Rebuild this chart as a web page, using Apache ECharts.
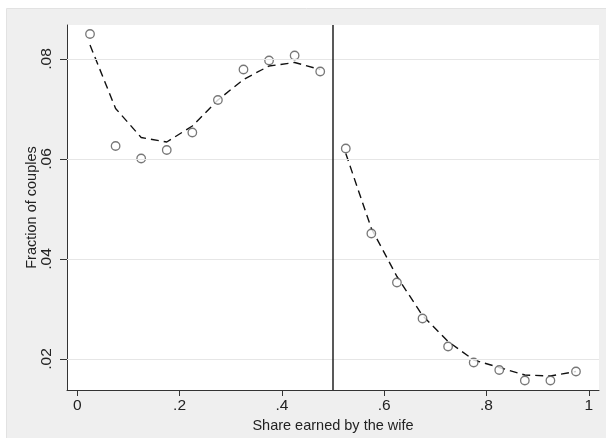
<!DOCTYPE html>
<html><head><meta charset="utf-8">
<script src="https://cdn.jsdelivr.net/npm/echarts@6/dist/echarts.min.js"></script>
<style>html,body{margin:0;padding:0;background:#fff}#c{width:606px;height:438px}</style>
</head><body><div id="c"></div>
<script>
const binX = [0.025,0.075,0.125,0.175,0.225,0.275,0.325,0.375,0.425,0.475,0.525,0.575,0.625,0.675,0.725,0.775,0.825,0.875,0.925,0.975];
const observed = [0.0850,0.0626,0.0601,0.0618,0.0653,0.0718,0.0779,0.0797,0.0807,0.0775,0.0621,0.0451,0.0353,0.0281,0.0225,0.0193,0.0178,0.0157,0.0157,0.0175];
const fittedLeft = [0.0828,0.0701,0.0643,0.0634,0.0666,0.0718,0.0759,0.0786,0.0793,0.0779];
const fittedRight = [0.0611,0.0461,0.0365,0.0287,0.0235,0.0198,0.0183,0.0168,0.0166,0.0175];
const xTicks = [0,0.2,0.4,0.6,0.8,1];
const xTickLabels = ['0','.2','.4','.6','.8','1'];
const yTicks = [0.02,0.04,0.06,0.08];
const yTickLabels = ['.02','.04','.06','.08'];
const cutoff = 0.5;

const font = 'Arial, "Liberation Sans", sans-serif';
const chart = echarts.init(document.getElementById('c'), null, {renderer:'canvas'});
const leftPts = fittedLeft.map((v,i)=>[binX[i],v]);
const rightPts = fittedRight.map((v,i)=>[binX[i+10],v]);
chart.setOption({
  backgroundColor:'#ffffff',
  animation:false,
  graphic:[{type:'rect',left:6,top:8,shape:{width:600,height:430},style:{fill:'#efefef',stroke:'#e2e2e2',lineWidth:1},z:-10}],
  grid:{left:67,top:25,right:7,bottom:48,show:true,backgroundColor:'#ffffff',borderWidth:0},
  xAxis:{type:'value',min:-0.02,max:1.02,
    name:'Share earned by the wife',nameLocation:'middle',nameGap:28,nameMoveOverlap:false,
    nameTextStyle:{fontFamily:font,fontSize:14.5,color:'#222'},
    axisLine:{show:true,onZero:false,lineStyle:{color:'#333',width:1}},
    axisTick:{show:true,length:6,customValues:xTicks,lineStyle:{color:'#333'}},
    axisLabel:{customValues:xTicks,margin:8,fontFamily:font,fontSize:15.5,color:'#222',
      formatter:v=>{const i=xTicks.findIndex(t=>Math.abs(t-v)<1e-9);return i>=0?xTickLabels[i]:'';}},
    splitLine:{show:false}},
  yAxis:{type:'value',min:0.0138,max:0.0868,
    name:'Fraction of couples',nameLocation:'middle',nameGap:28,nameRotate:90,nameMoveOverlap:false,
    nameTextStyle:{fontFamily:font,fontSize:14.5,color:'#222'},
    axisLine:{show:true,onZero:false,lineStyle:{color:'#333',width:1}},
    axisTick:{show:true,length:7,customValues:yTicks,lineStyle:{color:'#333'}},
    axisLabel:{customValues:yTicks,rotate:90,margin:12,fontFamily:font,fontSize:15.5,color:'#222',
      formatter:v=>{const i=yTicks.findIndex(t=>Math.abs(t-v)<1e-9);return i>=0?yTickLabels[i]:'';}},
    splitLine:{show:false}},
  series:[
    {type:'line',data:[],silent:true,
      markLine:{silent:true,symbol:'none',label:{show:false},
        lineStyle:{color:'#e6e6e6',width:1.2,type:'solid'},
        data:yTicks.map(v=>({yAxis:v}))}, z:1},
    {type:'line',data:[],silent:true,
      markLine:{silent:true,symbol:'none',label:{show:false},
        lineStyle:{color:'#222',width:1.5,type:'solid'},
        data:[{xAxis:cutoff}]}, z:2},
    {type:'line',data:leftPts,smooth:false,symbol:'none',
      lineStyle:{color:'#111',width:1.4,type:[8,5]},z:3},
    {type:'line',data:rightPts,smooth:false,symbol:'none',
      lineStyle:{color:'#111',width:1.4,type:[8,5]},z:3},
    {type:'scatter',data:observed.map((v,i)=>[binX[i],v]),symbol:'circle',symbolSize:8.5,
      itemStyle:{color:'#ffffff',borderColor:'#555',borderWidth:1.3},z:4}
  ]
});
</script></body></html>
